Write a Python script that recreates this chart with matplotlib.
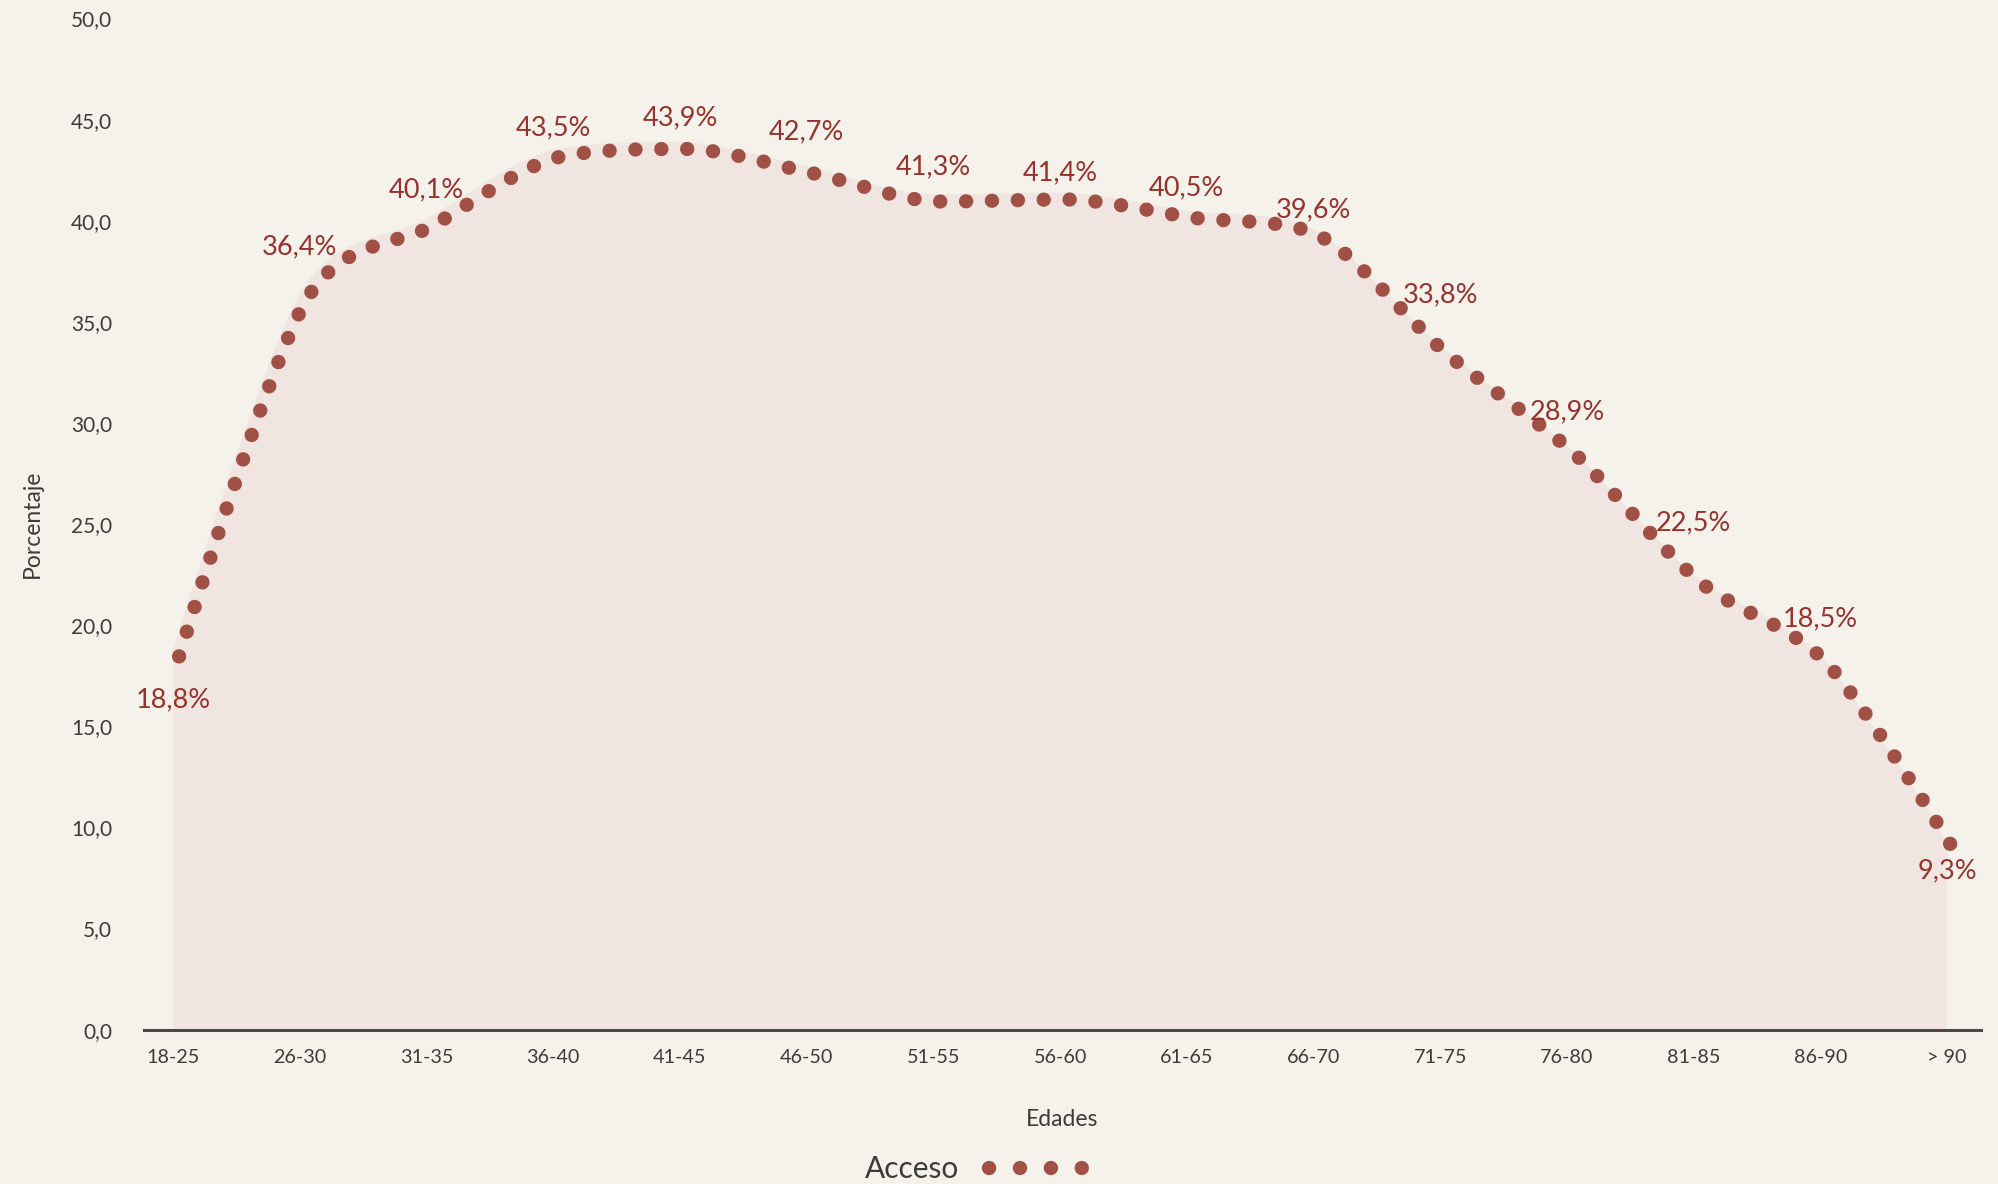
import numpy as np
import matplotlib.pyplot as plt
import matplotlib.transforms as mtransforms
from matplotlib.path import Path
from matplotlib.patches import PathPatch
from matplotlib.lines import Line2D

# data
edades = ["18-25", "26-30", "31-35", "36-40", "41-45", "46-50", "51-55", "56-60",
          "61-65", "66-70", "71-75", "76-80", "81-85", "86-90", "> 90"]
acceso = [18.8, 36.4, 40.1, 43.5, 43.9, 42.7, 41.3, 41.4, 40.5, 39.6, 33.8, 28.9, 22.5, 18.5, 9.3]
y_ticks = [0, 5, 10, 15, 20, 25, 30, 35, 40, 45, 50]

# vertical shift of each value label, in pixels (positive = up)
label_dy = [-50, 47, 29, 22, 24, 34, 28, 20, 23, 19, 51, 33, 52, 37, -29]

bg = "#f5f2ec"
fill_color = "#f0e5e0"
dot_color = "#a15045"
label_color = "#97322c"
text_color = "#3c3c3c"

plt.rcParams['font.family'] = ['Lato', 'DejaVu Sans']


def spline(xs, ys, smoothing=2.5):
    # highcharts-like spline: control points per point, clamped to avoid false extremes
    n = len(xs)
    left = [None] * n
    right = [None] * n
    for i in range(1, n - 1):
        lx = (smoothing * xs[i] + xs[i - 1]) / (smoothing + 1)
        ly = (smoothing * ys[i] + ys[i - 1]) / (smoothing + 1)
        rx = (smoothing * xs[i] + xs[i + 1]) / (smoothing + 1)
        ry = (smoothing * ys[i] + ys[i + 1]) / (smoothing + 1)
        corr = (ry - ly) * (rx - xs[i]) / (rx - lx) + ys[i] - ry
        ly += corr
        ry += corr
        if ly > ys[i - 1] and ly > ys[i]:
            ly = max(ys[i - 1], ys[i])
            ry = 2 * ys[i] - ly
        elif ly < ys[i - 1] and ly < ys[i]:
            ly = min(ys[i - 1], ys[i])
            ry = 2 * ys[i] - ly
        if ry > ys[i + 1] and ry > ys[i]:
            ry = max(ys[i + 1], ys[i])
            ly = 2 * ys[i] - ry
        elif ry < ys[i + 1] and ry < ys[i]:
            ry = min(ys[i + 1], ys[i])
            ly = 2 * ys[i] - ry
        left[i] = (lx, ly)
        right[i] = (rx, ry)
    verts = [(xs[0], ys[0])]
    codes = [Path.MOVETO]
    for i in range(1, n):
        c1 = right[i - 1] if right[i - 1] else (xs[i - 1], ys[i - 1])
        c2 = left[i] if left[i] else (xs[i], ys[i])
        verts += [c1, c2, (xs[i], ys[i])]
        codes += [Path.CURVE4] * 3
    return verts, codes


x = np.arange(len(edades))

fig = plt.figure(figsize=(19.98, 11.84), dpi=100, facecolor=bg)
ax = fig.add_axes([0.0721, 0.1304, 0.9194, 0.8539])
ax.set_facecolor(bg)

verts, codes = spline(list(x), acceso)

# area under the curve
area_verts = verts + [(x[-1], 0), (x[0], 0), (x[0], 0)]
area_codes = codes + [Path.LINETO, Path.LINETO, Path.CLOSEPOLY]
ax.add_patch(PathPatch(Path(area_verts, area_codes), facecolor=fill_color,
                       edgecolor="none", zorder=1))

# dotted line, drawn a few pixels right/down like the original
shift = mtransforms.ScaledTranslation(6 / 100, -7 / 100, fig.dpi_scale_trans)
ax.add_patch(PathPatch(Path(verts, codes), fill=False, edgecolor=dot_color,
                       lw=10.3, linestyle=(0, (0.01, 1.80)), capstyle="round",
                       transform=ax.transData + shift, zorder=3, clip_on=False))

# value labels
for xi, v, dy in zip(x, acceso, label_dy):
    ax.annotate(f"{v:.1f}%".replace(".", ","), (xi, v), xytext=(0, dy),
                textcoords="offset pixels", ha="center", va="center",
                fontsize=19.5, color=label_color, zorder=4)

ax.set_xlim(-0.229, 14.268)
ax.set_ylim(0, 50)
ax.set_xticks(x)
ax.set_xticklabels(edades)
ax.set_yticks(y_ticks)
ax.set_yticklabels([f"{t:.1f}".replace(".", ",") for t in y_ticks])
ax.tick_params(axis="x", length=0, pad=14, labelsize=14.2, labelcolor=text_color)
ax.tick_params(axis="y", length=0, pad=23, labelsize=15, labelcolor=text_color)

for side in ["top", "right", "left"]:
    ax.spines[side].set_visible(False)
ax.spines["bottom"].set_color("#4a4a4a")
ax.spines["bottom"].set_linewidth(2.2)
ax.spines["bottom"].set_zorder(5)

ax.set_ylabel("Porcentaje", fontsize=16.5, color=text_color, va="center")
ax.yaxis.set_label_coords(-0.061, 0.5)
ax.set_xlabel("Edades", fontsize=16.5, color=text_color, va="center")
ax.xaxis.set_label_coords(0.5, -0.089)

handle = Line2D([], [], color=dot_color, lw=10.3, linestyle=(0, (0.01, 2.15)),
                dash_capstyle="round")
fig.legend(handles=[handle], labels=["Acceso"], loc="center",
           bbox_to_anchor=(0.491, 0.0127), frameon=False, markerfirst=False,
           handlelength=3.6, handletextpad=1.0, fontsize=21.5, labelcolor=text_color)

fig.savefig("out.png", dpi=100, facecolor=bg)
